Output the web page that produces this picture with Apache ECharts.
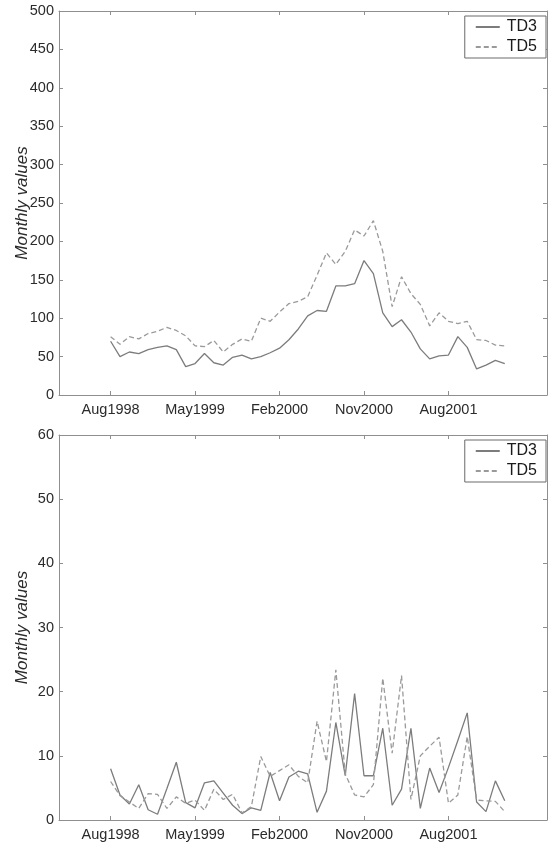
<!DOCTYPE html>
<html>
<head>
<meta charset="utf-8">
<title>TD3 / TD5 monthly values</title>
<script src="https://cdn.jsdelivr.net/npm/echarts@6/dist/echarts.min.js"></script>
<style>
  html, body { margin: 0; padding: 0; background: #fff; }
  #chart { width: 548px; height: 843px; }
</style>
</head>
<body>
<div id="chart"></div>
<script>
// Months since Aug1998 (index 0) through Feb2002 (index 42)
const tickMonths = [0, 9, 18, 27, 36];
const tickLabels = ['Aug1998', 'May1999', 'Feb2000', 'Nov2000', 'Aug2001'];
const seriesNames = ['TD3', 'TD5'];

// Upper panel
const td3Upper = [70, 50, 56, 54, 59, 62, 64, 59, 37, 41, 54, 42, 39, 49, 52, 47, 50, 55,
  61, 72, 86, 103, 110, 109, 142, 142, 145, 175, 158, 107, 89, 98, 82, 60, 47, 51, 52, 76, 62, 34, 39, 45, 41];
const td5Upper = [76, 66, 76, 73, 80, 83, 88, 84, 77, 64, 63, 71, 56, 66, 73, 70, 100, 96,
  108, 119, 122, 128, 156, 185, 170, 187, 215, 207, 227, 187, 115, 154, 132, 118, 90, 107, 96, 93, 96, 72, 71, 65, 64];

// Lower panel
const td3Lower = [8.0, 3.9, 2.5, 5.5, 1.6, 0.9, 4.9, 9.0, 2.7, 1.9, 5.8, 6.1, 4.2, 2.3, 1.0, 1.9, 1.5, 7.4,
  3.0, 6.7, 7.6, 7.2, 1.2, 4.5, 15.2, 6.9, 19.7, 6.9, 6.9, 14.3, 2.3, 4.8, 14.3, 1.8, 8.1, 4.3, 8.2, 12.4, 16.7, 2.8, 1.3, 6.1, 3.0];
const td5Lower = [6.0, 3.8, 2.8, 1.8, 4.1, 4.0, 1.8, 3.6, 2.6, 3.1, 1.5, 4.8, 3.2, 4.0, 1.1, 2.1, 9.9, 6.8,
  7.7, 8.6, 6.8, 5.8, 15.4, 9.1, 23.4, 7.2, 3.9, 3.6, 5.5, 22.1, 10.4, 22.5, 3.2, 10.0, 11.5, 12.9, 2.6, 3.9, 13.0, 3.1, 3.0, 2.9, 1.3];

const yMaxes = [500, 60];
const yIntervals = [50, 10];

const FONT = '"Liberation Sans", Arial, sans-serif';
const AXIS_COLOR = '#8f8f8f';
const TEXT_COLOR = '#2b2b2b';
const SOLID_COLOR = '#7c7c7c';
const DASH_COLOR = '#9a9a9a';
const X_MIN = -5.5, X_MAX = 46.5;

const grids = [
  { left: 59, top: 11, width: 488, height: 384, outerBoundsMode: 'none', containLabel: false },
  { left: 59, top: 435, width: 488, height: 385, outerBoundsMode: 'none', containLabel: false }
];

const xAxes = [];
const yAxes = [];
grids.forEach((g, gi) => {
  const baseX = {
    type: 'value', gridIndex: gi, min: X_MIN, max: X_MAX,
    axisLine: { show: true, onZero: false, lineStyle: { color: AXIS_COLOR, width: 1 } },
    axisTick: { show: true, inside: true, length: 4, customValues: tickMonths, lineStyle: { color: AXIS_COLOR } },
    splitLine: { show: false }
  };
  xAxes.push(Object.assign({}, baseX, {
    position: 'bottom',
    axisLabel: {
      show: true, margin: 7, customValues: tickMonths,
      formatter: v => tickLabels[tickMonths.indexOf(Math.round(v))] || '',
      color: TEXT_COLOR, fontFamily: FONT, fontSize: 14.5
    }
  }));
  xAxes.push(Object.assign({}, baseX, { position: 'top', axisLabel: { show: false } }));

  const baseY = {
    type: 'value', gridIndex: gi, min: 0, max: yMaxes[gi], interval: yIntervals[gi],
    axisLine: { show: true, onZero: false, lineStyle: { color: AXIS_COLOR, width: 1 } },
    axisTick: { show: true, inside: true, length: 4, lineStyle: { color: AXIS_COLOR } },
    splitLine: { show: false }
  };
  yAxes.push(Object.assign({}, baseY, {
    position: 'left',
    name: 'Monthly values', nameLocation: 'middle', nameGap: 28, nameMoveOverlap: false,
    nameTextStyle: { fontStyle: 'italic', fontSize: 17, color: TEXT_COLOR, fontFamily: FONT },
    axisLabel: { show: true, margin: 5, color: TEXT_COLOR, fontFamily: FONT, fontSize: 14.5 }
  }));
  yAxes.push(Object.assign({}, baseY, { position: 'right', axisLabel: { show: false } }));
});

function lineSeries(name, values, gi, dashed) {
  const color = dashed ? DASH_COLOR : SOLID_COLOR;
  return {
    name: name, type: 'line', xAxisIndex: gi * 2, yAxisIndex: gi * 2,
    data: values.map((v, i) => [i, v]),
    symbol: 'none', silent: true, animation: false,
    itemStyle: { color: color },
    lineStyle: { color: color, width: 1.3, type: dashed ? [5, 3] : 'solid' }
  };
}

const legendBase = {
  orient: 'vertical', right: 2, data: seriesNames,
  padding: [3, 9, 3, 10], itemGap: 4, itemWidth: 24, itemHeight: 14,
  borderColor: '#6a6a6a', borderWidth: 1, backgroundColor: '#fff',
  selectedMode: false,
  itemStyle: { opacity: 0 },
  textStyle: { fontSize: 16, color: '#1a1a1a', fontFamily: FONT, padding: [0, 0, 0, 2] }
};

const option = {
  backgroundColor: '#fff',
  animation: false,
  grid: grids,
  xAxis: xAxes,
  yAxis: yAxes,
  legend: [
    Object.assign({}, legendBase, { top: 16 }),
    Object.assign({}, legendBase, { top: 440 })
  ],
  series: [
    lineSeries(seriesNames[0], td3Upper, 0, false),
    lineSeries(seriesNames[1], td5Upper, 0, true),
    lineSeries(seriesNames[0], td3Lower, 1, false),
    lineSeries(seriesNames[1], td5Lower, 1, true)
  ]
};

echarts.init(document.getElementById('chart'), null, { renderer: 'canvas' }).setOption(option);
</script>
</body>
</html>
